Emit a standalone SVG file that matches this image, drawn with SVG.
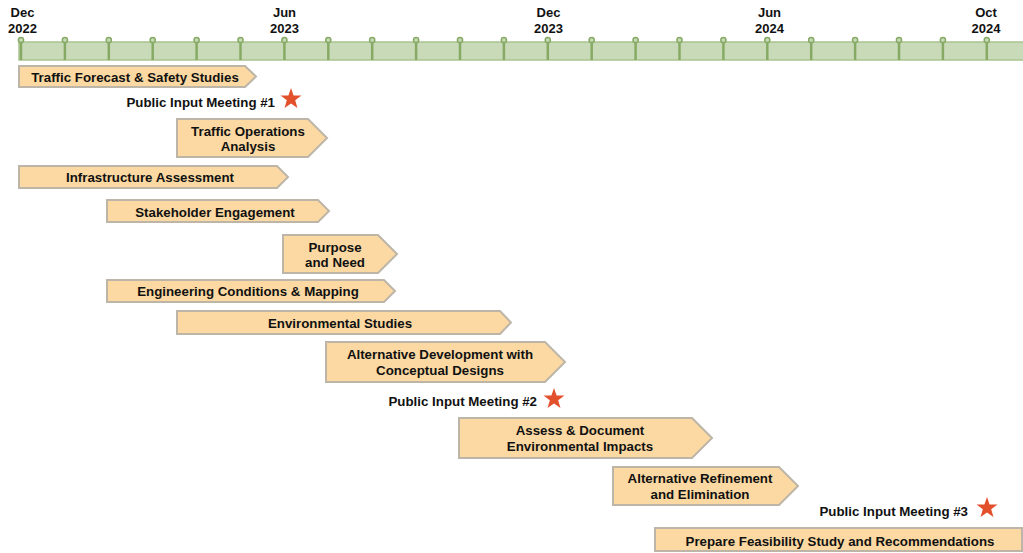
<svg xmlns="http://www.w3.org/2000/svg" xmlns:xlink="http://www.w3.org/1999/xlink" width="1023" height="553" viewBox="0 0 1023 553">
<style>
text{font-family:"Liberation Sans",Arial,sans-serif;font-weight:bold;fill:#111;}
.hdr{font-size:13px;text-anchor:middle;}
.lbl{font-size:13.3px;text-anchor:middle;}
.pim{font-size:13.3px;text-anchor:end;}
.bar{fill:#fcd9a2;stroke:#bdb6a8;stroke-width:2;}
.tick{stroke:#86aa64;stroke-width:2.5;}
.dot{fill:#c9dab9;stroke:#86aa64;stroke-width:1.5;}
.star{fill:#e2502c;}
</style>
<defs>
<polygon id="star" points="0,-11 2.59,-3.56 10.46,-3.4 4.18,1.36 6.47,8.9 0,4.4 -6.47,8.9 -4.18,1.36 -10.46,-3.4 -2.59,-3.56"/>
<g id="tk"><line class="tick" x1="0" y1="41" x2="0" y2="60"/><circle class="dot" cx="0" cy="40" r="2.6"/></g>
</defs>
<rect width="1023" height="553" fill="#ffffff"/>
<g id="timeline">
<rect x="19" y="42" width="1005" height="18" fill="#c9dab9" stroke="#a9c48f" stroke-width="1.5"/>
<use xlink:href="#tk" x="21"/><use xlink:href="#tk" x="64.9"/><use xlink:href="#tk" x="108.8"/><use xlink:href="#tk" x="152.7"/><use xlink:href="#tk" x="196.6"/><use xlink:href="#tk" x="240.5"/><use xlink:href="#tk" x="284.4"/><use xlink:href="#tk" x="328.3"/><use xlink:href="#tk" x="372.2"/><use xlink:href="#tk" x="416.1"/><use xlink:href="#tk" x="460"/><use xlink:href="#tk" x="503.9"/><use xlink:href="#tk" x="547.8"/><use xlink:href="#tk" x="591.7"/><use xlink:href="#tk" x="635.6"/><use xlink:href="#tk" x="679.5"/><use xlink:href="#tk" x="723.4"/><use xlink:href="#tk" x="767.3"/><use xlink:href="#tk" x="811.2"/><use xlink:href="#tk" x="855.1"/><use xlink:href="#tk" x="899"/><use xlink:href="#tk" x="942.9"/><use xlink:href="#tk" x="986.8"/>
<text class="hdr" x="22.5" y="17">Dec</text><text class="hdr" x="22.5" y="33">2022</text>
<text class="hdr" x="284.5" y="17">Jun</text><text class="hdr" x="284.5" y="33">2023</text>
<text class="hdr" x="548.5" y="17">Dec</text><text class="hdr" x="548.5" y="33">2023</text>
<text class="hdr" x="769.5" y="17">Jun</text><text class="hdr" x="769.5" y="33">2024</text>
<text class="hdr" x="986" y="17">Oct</text><text class="hdr" x="986" y="33">2024</text>
</g>
<g id="connectors"></g>
<g id="traffic-forecast">
<path class="bar" d="M19 66 H245 L256 76.5 L245 87 H19 Z"/>
<text class="lbl" x="135" y="81.5">Traffic Forecast &amp; Safety Studies</text>
</g>
<g id="pim1">
<text class="pim" x="275" y="107">Public Input Meeting #1</text>
<use xlink:href="#star" class="star" x="291" y="99"/>
</g>
<g id="traffic-ops">
<path class="bar" d="M177 119 H308 L327 138 L308 157 H177 Z"/>
<text class="lbl" x="248" y="135.5">Traffic Operations</text>
<text class="lbl" x="248" y="151">Analysis</text>
</g>
<g id="infrastructure">
<path class="bar" d="M19 166 H277 L288 177 L277 188 H19 Z"/>
<text class="lbl" x="150" y="182">Infrastructure Assessment</text>
</g>
<g id="stakeholder">
<path class="bar" d="M107 200 H318 L329 211 L318 222 H107 Z"/>
<text class="lbl" x="215" y="216.5">Stakeholder Engagement</text>
</g>
<g id="purpose">
<path class="bar" d="M283 235 H378 L397 254 L378 273 H283 Z"/>
<text class="lbl" x="335" y="251.5">Purpose</text>
<text class="lbl" x="335" y="267">and Need</text>
</g>
<g id="engineering">
<path class="bar" d="M107 280 H384 L395 291 L384 302 H107 Z"/>
<text class="lbl" x="248" y="295.5">Engineering Conditions &amp; Mapping</text>
</g>
<g id="environmental">
<path class="bar" d="M177 311 H500 L511 322.5 L500 334 H177 Z"/>
<text class="lbl" x="340" y="327.5">Environmental Studies</text>
</g>
<g id="alt-dev">
<path class="bar" d="M326 342 H545 L565 362 L545 382 H326 Z"/>
<text class="lbl" x="440" y="359">Alternative Development with</text>
<text class="lbl" x="440" y="375">Conceptual Designs</text>
</g>
<g id="pim2">
<text class="pim" x="537" y="406">Public Input Meeting #2</text>
<use xlink:href="#star" class="star" x="554" y="399"/>
</g>
<g id="assess">
<path class="bar" d="M459 418 H692 L712 438 L692 458 H459 Z"/>
<text class="lbl" x="580" y="435">Assess &amp; Document</text>
<text class="lbl" x="580" y="450.5">Environmental Impacts</text>
</g>
<g id="alt-ref">
<path class="bar" d="M613 467 H779 L798 486 L779 505 H613 Z"/>
<text class="lbl" x="700" y="483">Alternative Refinement</text>
<text class="lbl" x="700" y="498.5">and Elimination</text>
</g>
<g id="pim3">
<text class="pim" x="968" y="516">Public Input Meeting #3</text>
<use xlink:href="#star" class="star" x="987" y="508"/>
</g>
<g id="feasibility">
<path class="bar" d="M655 528 H1022 V551 H655 Z"/>
<text class="lbl" x="840" y="545.5">Prepare Feasibility Study and Recommendations</text>
</g>
</svg>
